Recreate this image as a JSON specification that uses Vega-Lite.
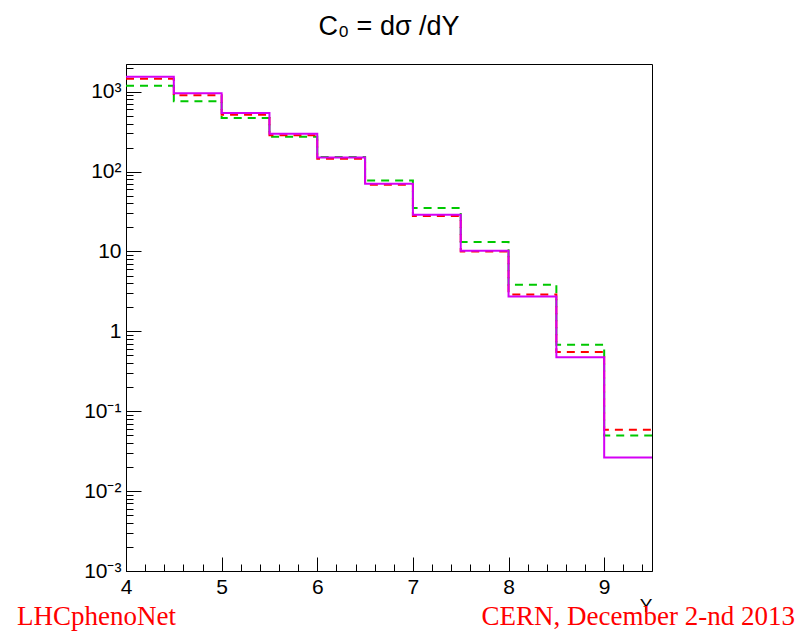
{
  "$schema": "https://vega.github.io/schema/vega-lite/v6.json",
  "width": 526,
  "height": 507,
  "autosize": {"type": "none"},
  "padding": {"left": 126, "top": 64, "right": 147, "bottom": 60},
  "background": "white",
  "config": {
    "view": {"stroke": "black", "strokeWidth": 1},
    "axis": {"domainColor": "black", "tickColor": "black", "labelColor": "black", "labelFont": "Liberation Sans", "titleFont": "Liberation Sans", "grid": false, "tickWidth": 1, "domainWidth": 1}
  },
  "title": {"text": "C₀ = dσ /dY", "font": "Liberation Sans", "fontSize": 27, "fontWeight": "normal", "color": "black", "anchor": "middle", "frame": "group", "baseline": "alphabetic", "offset": 29, "dy": 27},
  "datasets": {
    "green": [
      {"Y": 4, "dsigma": 1189}, {"Y": 4.5, "dsigma": 759}, {"Y": 5, "dsigma": 469}, {"Y": 5.5, "dsigma": 274},
      {"Y": 6, "dsigma": 152}, {"Y": 6.5, "dsigma": 77.2}, {"Y": 7, "dsigma": 34.9}, {"Y": 7.5, "dsigma": 13.1},
      {"Y": 8, "dsigma": 3.83}, {"Y": 8.5, "dsigma": 0.682}, {"Y": 9, "dsigma": 0.0497}, {"Y": 9.5, "dsigma": 0.0497}
    ],
    "red": [
      {"Y": 4, "dsigma": 1454}, {"Y": 4.5, "dsigma": 902}, {"Y": 5, "dsigma": 516}, {"Y": 5.5, "dsigma": 285},
      {"Y": 6, "dsigma": 145}, {"Y": 6.5, "dsigma": 68.2}, {"Y": 7, "dsigma": 27.9}, {"Y": 7.5, "dsigma": 10.0},
      {"Y": 8, "dsigma": 2.90}, {"Y": 8.5, "dsigma": 0.553}, {"Y": 9, "dsigma": 0.0585}, {"Y": 9.5, "dsigma": 0.0585}
    ],
    "magenta": [
      {"Y": 4, "dsigma": 1540}, {"Y": 4.5, "dsigma": 955}, {"Y": 5, "dsigma": 542}, {"Y": 5.5, "dsigma": 298},
      {"Y": 6, "dsigma": 150}, {"Y": 6.5, "dsigma": 70.2}, {"Y": 7, "dsigma": 28.8}, {"Y": 7.5, "dsigma": 10.2},
      {"Y": 8, "dsigma": 2.74}, {"Y": 8.5, "dsigma": 0.473}, {"Y": 9, "dsigma": 0.0264}, {"Y": 9.5, "dsigma": 0.0264}
    ],
    "notes": [
      {"note": "LHCphenoNet", "side": "left"},
      {"note": "CERN, December 2-nd 2013", "side": "right"}
    ]
  },
  "layer": [
    {
      "data": {"name": "green"},
      "mark": {"type": "line", "interpolate": "step-after", "color": "#00c800", "strokeWidth": 2, "strokeDash": [8, 6], "clip": true},
      "encoding": {
        "x": {"field": "Y", "type": "quantitative", "scale": {"domain": [4, 9.5], "nice": false, "zero": false},
          "axis": {"orient": "bottom", "values": [4, 5, 6, 7, 8, 9], "ticks": false, "labelPadding": 5, "labelFontSize": 21, "labelFlush": false, "labelOverlap": false, "domain": true,
            "title": "Y", "titleX": 526, "titleY": 40, "titleAlign": "right", "titleBaseline": "alphabetic", "titleFontSize": 19, "titleFontWeight": "normal", "titleColor": "black"}},
        "y": {"field": "dsigma", "type": "quantitative", "scale": {"type": "log", "domain": [0.001, 2223], "nice": false},
          "axis": {"orient": "left", "values": [0.001, 0.01, 0.1, 1, 10, 100, 1000], "ticks": false, "labelPadding": 5, "labelFontSize": 21, "labelFlush": false, "labelOverlap": false, "domain": true, "title": null,
            "labelExpr": "datum.value >= 999 ? '10³' : datum.value >= 99 ? '10²' : datum.value >= 9 ? '10' : datum.value >= 0.9 ? '1' : datum.value >= 0.09 ? '10⁻¹' : datum.value >= 0.009 ? '10⁻²' : '10⁻³'"}}
      }
    },
    {
      "data": {"name": "red"},
      "mark": {"type": "line", "interpolate": "step-after", "color": "#ff0000", "strokeWidth": 2, "strokeDash": [8, 6], "clip": true},
      "encoding": {
        "x": {"field": "Y", "type": "quantitative", "scale": {"domain": [4, 9.5], "nice": false, "zero": false},
          "axis": {"orient": "bottom", "values": [4, 5, 6, 7, 8, 9], "labels": false, "domain": false, "tickSize": 14, "offset": -14, "title": null}},
        "y": {"field": "dsigma", "type": "quantitative", "scale": {"type": "log", "domain": [0.001, 2223], "nice": false},
          "axis": {"orient": "left", "values": [0.001, 0.01, 0.1, 1, 10, 100, 1000], "labels": false, "domain": false, "tickSize": 15, "offset": -15, "title": null}}
      }
    },
    {
      "data": {"name": "magenta"},
      "mark": {"type": "line", "interpolate": "step-after", "color": "#d400f5", "strokeWidth": 2, "clip": true},
      "encoding": {
        "x": {"field": "Y", "type": "quantitative", "scale": {"domain": [4, 9.5], "nice": false, "zero": false},
          "axis": {"orient": "bottom", "values": [4.2, 4.4, 4.6, 4.8, 5.2, 5.4, 5.6, 5.8, 6.2, 6.4, 6.6, 6.8, 7.2, 7.4, 7.6, 7.8, 8.2, 8.4, 8.6, 8.8, 9.2, 9.4], "labels": false, "domain": false, "tickSize": 7, "offset": -7, "title": null}},
        "y": {"field": "dsigma", "type": "quantitative", "scale": {"type": "log", "domain": [0.001, 2223], "nice": false},
          "axis": {"orient": "left", "values": [0.002, 0.003, 0.004, 0.005, 0.006, 0.007, 0.008, 0.009, 0.02, 0.03, 0.04, 0.05, 0.06, 0.07, 0.08, 0.09, 0.2, 0.3, 0.4, 0.5, 0.6, 0.7, 0.8, 0.9, 2, 3, 4, 5, 6, 7, 8, 9, 20, 30, 40, 50, 60, 70, 80, 90, 200, 300, 400, 500, 600, 700, 800, 900, 2000], "labels": false, "domain": false, "tickSize": 7, "offset": -7, "title": null}}
      }
    },
    {
      "data": {"name": "notes"},
      "transform": [{"filter": "datum.side == 'left'"}],
      "mark": {"type": "text", "font": "Liberation Serif", "fontSize": 27, "color": "#ff0000", "align": "left", "baseline": "alphabetic"},
      "encoding": {
        "x": {"datum": 2.86, "type": "quantitative", "scale": {"domain": [4, 9.5], "nice": false, "zero": false}, "axis": null},
        "y": {"datum": 0.000208, "type": "quantitative", "scale": {"type": "log", "domain": [0.001, 2223], "nice": false}, "axis": null},
        "text": {"field": "note"}
      }
    },
    {
      "data": {"name": "notes"},
      "transform": [{"filter": "datum.side == 'right'"}],
      "mark": {"type": "text", "font": "Liberation Serif", "fontSize": 27, "color": "#ff0000", "align": "right", "baseline": "alphabetic"},
      "encoding": {
        "x": {"datum": 10.995, "type": "quantitative", "scale": {"domain": [4, 9.5], "nice": false, "zero": false}, "axis": null},
        "y": {"datum": 0.000208, "type": "quantitative", "scale": {"type": "log", "domain": [0.001, 2223], "nice": false}, "axis": null},
        "text": {"field": "note"}
      }
    }
  ],
  "resolve": {"axis": {"x": "independent", "y": "independent"}}
}
